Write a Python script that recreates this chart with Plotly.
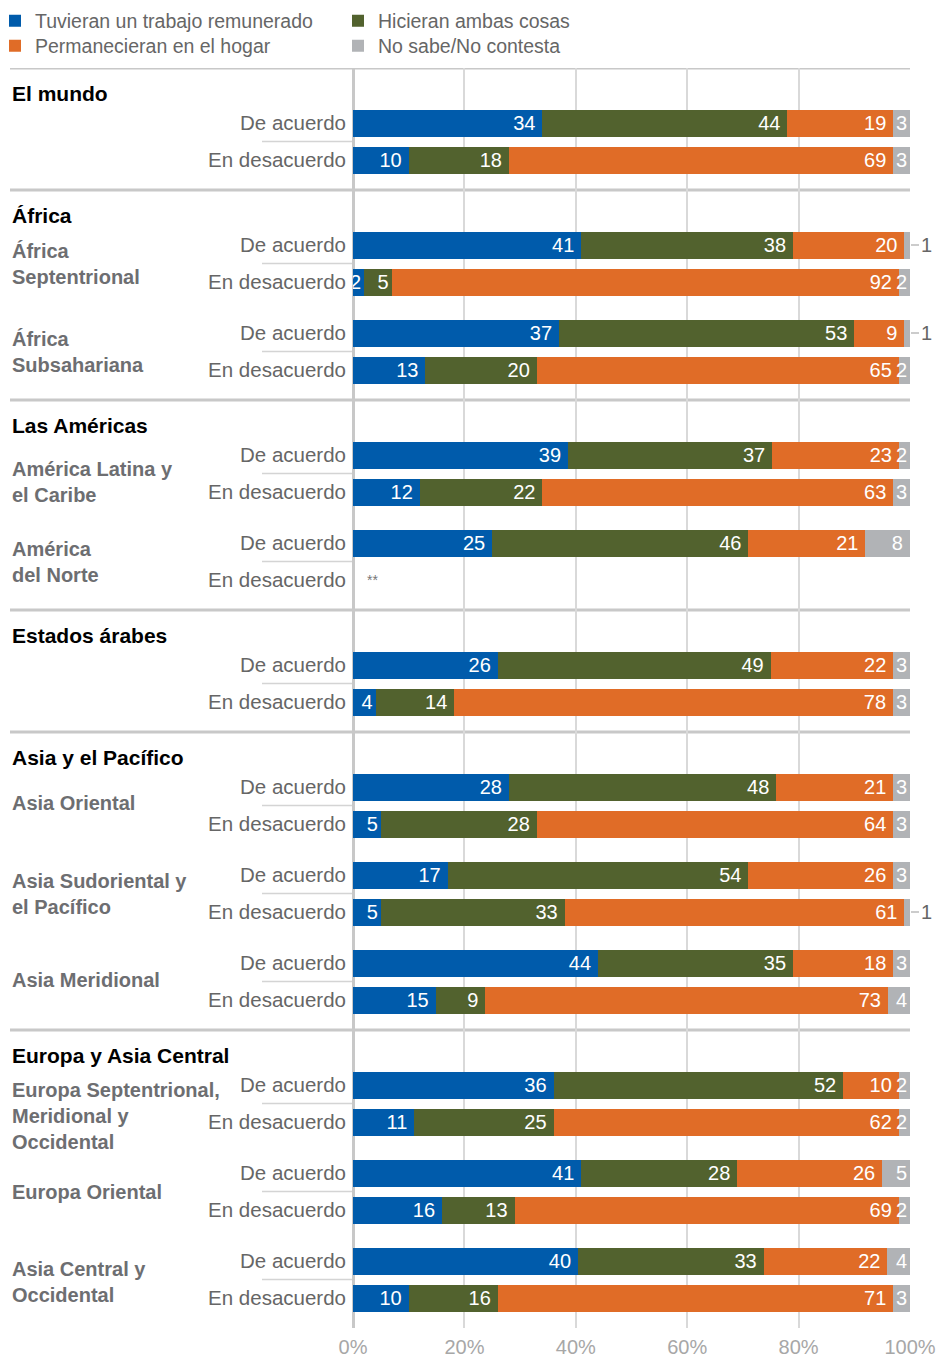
import plotly.graph_objects as go

# Series (legend order) and colours
SERIES = [
    "Tuvieran un trabajo remunerado",
    "Hicieran ambas cosas",
    "Permanecieran en el hogar",
    "No sabe/No contesta",
]
COLORS = ["#005bab", "#52622e", "#e06c27", "#b1b3b6"]

SECTIONS = ["El mundo", "África", "Las Américas", "Estados árabes",
            "Asia y el Pacífico", "Europa y Asia Central"]

REGIONS = [
    "",
    "África<br>Septentrional",
    "África<br>Subsahariana",
    "América Latina y<br>el Caribe",
    "América<br>del Norte",
    "",
    "Asia Oriental",
    "Asia Sudoriental y<br>el Pacífico",
    "Asia Meridional",
    "Europa Septentrional,<br>Meridional y<br>Occidental",
    "Europa Oriental",
    "Asia Central y<br>Occidental",
]
REGION_SECTION = [0, 1, 1, 2, 2, 3, 4, 4, 4, 5, 5, 5]
ANSWERS = ["De acuerdo", "En desacuerdo"]

# values: two rows per region (De acuerdo, En desacuerdo)
TRABAJO = [34, 10, 41, 2, 37, 13, 39, 12, 25, None, 26, 4,
           28, 5, 17, 5, 44, 15, 36, 11, 41, 16, 40, 10]
AMBAS = [44, 18, 38, 5, 53, 20, 37, 22, 46, None, 49, 14,
         48, 28, 54, 33, 35, 9, 52, 25, 28, 13, 33, 16]
HOGAR = [19, 69, 20, 92, 9, 65, 23, 63, 21, None, 22, 78,
         21, 64, 26, 61, 18, 73, 10, 62, 26, 69, 22, 71]
NSNC = [3, 3, 1, 2, 1, 2, 2, 3, 8, None, 3, 3,
        3, 3, 3, 1, 3, 4, 2, 2, 5, 2, 4, 3]

X_TICKS = [0, 20, 40, 60, 80, 100]

FONT = "Liberation Sans, Arial, sans-serif"
W, H = 937, 1359
LEFT, RIGHT, TOP = 353, 910, 68

# vertical layout (y axis in pixel units, reversed)
row_y, sep_y, header_y, region_y = [], [TOP], [], []
y = TOP
prev = None
for sec in REGION_SECTION:
    if sec != prev:
        if prev is not None:
            y += 30
            sep_y.append(y)
        y += 26
        header_y.append(y)
        y += 29
    else:
        y += 51
    row_y += [y, y + 37]
    region_y.append(y + 18.5)
    y += 37
    prev = sec
BOTTOM = y + 30

# small vertical nudges for a few region labels (px)
LABEL_NUDGE = {3: 8, 6: -3, 8: -2, 11: 2}

plot_w = RIGHT - LEFT
plot_h = BOTTOM - TOP


def px_to_paper(px):
    return (px - LEFT) / plot_w


def py_to_paper(py):
    return 1 + (TOP - py) / plot_h


def bar_text(v):
    if v is None or v < 2:
        return ""
    # a little extra right padding on wide segments
    return f"{v}\u2009" if v >= 6 else str(v)


fig = go.Figure()
all_vals = [TRABAJO, AMBAS, HOGAR, NSNC]
legend_ids = ["legend", "legend3", "legend2", "legend4"]
for k, (name, vals) in enumerate(zip(SERIES, all_vals)):
    fig.add_trace(go.Bar(
        y=row_y, x=vals, orientation="h", width=27,
        name=name, marker=dict(color=COLORS[k], line=dict(width=0)),
        text=[bar_text(v) for v in vals], textposition="inside",
        insidetextanchor="end", textangle=0,
        textfont=dict(color="white", size=20, family=FONT),
        legend=legend_ids[k],
        hoverinfo="x+name",
    ))

annotations = []
# section headers
for name, hy in zip(SECTIONS, header_y):
    annotations.append(dict(
        xref="paper", yref="y", x=px_to_paper(10), y=hy - 1, text=name,
        showarrow=False, xanchor="left", yanchor="middle",
        font=dict(size=21, color="#000000", family=FONT, weight="bold"),
    ))
# region labels
for i, (label, ry) in enumerate(zip(REGIONS, region_y)):
    if not label:
        continue
    n = label.count("<br>") + 1
    annotations.append(dict(
        xref="paper", yref="y", x=px_to_paper(10),
        y=ry + max(0, n - 2) * 12.5 + LABEL_NUDGE.get(i, 0),
        text=label, showarrow=False, xanchor="left", yanchor="middle", align="left",
        font=dict(size=20, color="#6d6e71", family=FONT, weight="bold"),
    ))
# small values outside bars and missing rows
for i, ry in enumerate(row_y):
    vals = [s[i] for s in all_vals]
    if all(v is None for v in vals):
        annotations.append(dict(
            xref="x", yref="y", x=0, y=ry, text="**", showarrow=False,
            xanchor="left", yanchor="middle", xshift=12,
            font=dict(size=14, color="#777777", family=FONT),
        ))
    elif NSNC[i] is not None and NSNC[i] < 2:
        annotations.append(dict(
            xref="x", yref="y", x=100, y=ry, text=str(NSNC[i]),
            showarrow=True, arrowhead=0, arrowwidth=1, arrowcolor="#999999",
            ax=16, ay=0, standoff=1,
            font=dict(size=20, color="#666666", family=FONT),
        ))

shapes = []
for sy in sep_y:
    shapes.append(dict(
        type="line", xref="paper", yref="y", x0=px_to_paper(10), x1=1,
        y0=sy, y1=sy, line=dict(color="#c8c8c8", width=3), layer="below",
    ))
for i in range(0, len(row_y), 2):
    my = (row_y[i] + row_y[i + 1]) / 2
    shapes.append(dict(
        type="line", xref="paper", yref="y", x0=px_to_paper(262), x1=0,
        y0=my, y1=my, line=dict(color="#d4d4d4", width=1.5), layer="below",
    ))

legend_common = dict(
    orientation="v", xanchor="left", yanchor="middle",
    font=dict(size=19.5, color="#666666", family=FONT),
    bgcolor="rgba(0,0,0,0)", borderwidth=0,
    itemclick=False, itemdoubleclick=False, itemwidth=30,
)
legend_pos = {
    "legend": (-5, 21),
    "legend2": (-5, 46),
    "legend3": (338, 21),
    "legend4": (338, 46),
}
legends = {
    lid: dict(x=px_to_paper(lx), y=py_to_paper(ly), **legend_common)
    for lid, (lx, ly) in legend_pos.items()
}

fig.update_layout(
    width=W, height=H,
    margin=dict(l=LEFT, r=W - RIGHT, t=TOP, b=H - BOTTOM, pad=0, autoexpand=False),
    barmode="stack", barnorm="percent",
    paper_bgcolor="white", plot_bgcolor="white",
    font=dict(family=FONT),
    showlegend=True,
    uniformtext=dict(minsize=20, mode="show"),
    annotations=annotations,
    shapes=shapes,
    xaxis=dict(
        range=[0, 100], tickvals=X_TICKS, ticktext=[f"{t}%" for t in X_TICKS],
        showgrid=True, gridcolor="#d9d9d9", gridwidth=1.5,
        zeroline=True, zerolinecolor="#c8c8c8", zerolinewidth=3,
        tickfont=dict(size=20, color="#a7a7a7", family=FONT),
        ticks="", ticklabelstandoff=5, fixedrange=True, automargin=False,
    ),
    yaxis=dict(
        range=[BOTTOM, TOP], tickvals=row_y,
        ticktext=ANSWERS * (len(row_y) // 2),
        showgrid=False, zeroline=False, ticks="",
        tickfont=dict(size=20.5, color="#666666", family=FONT),
        ticklabelstandoff=6, fixedrange=True, automargin=False,
    ),
    **legends,
)

fig.write_html(
    "out.html",
    config={"displayModeBar": False},
    post_script="document.body.style.margin='0';document.body.style.overflow='hidden';",
)
